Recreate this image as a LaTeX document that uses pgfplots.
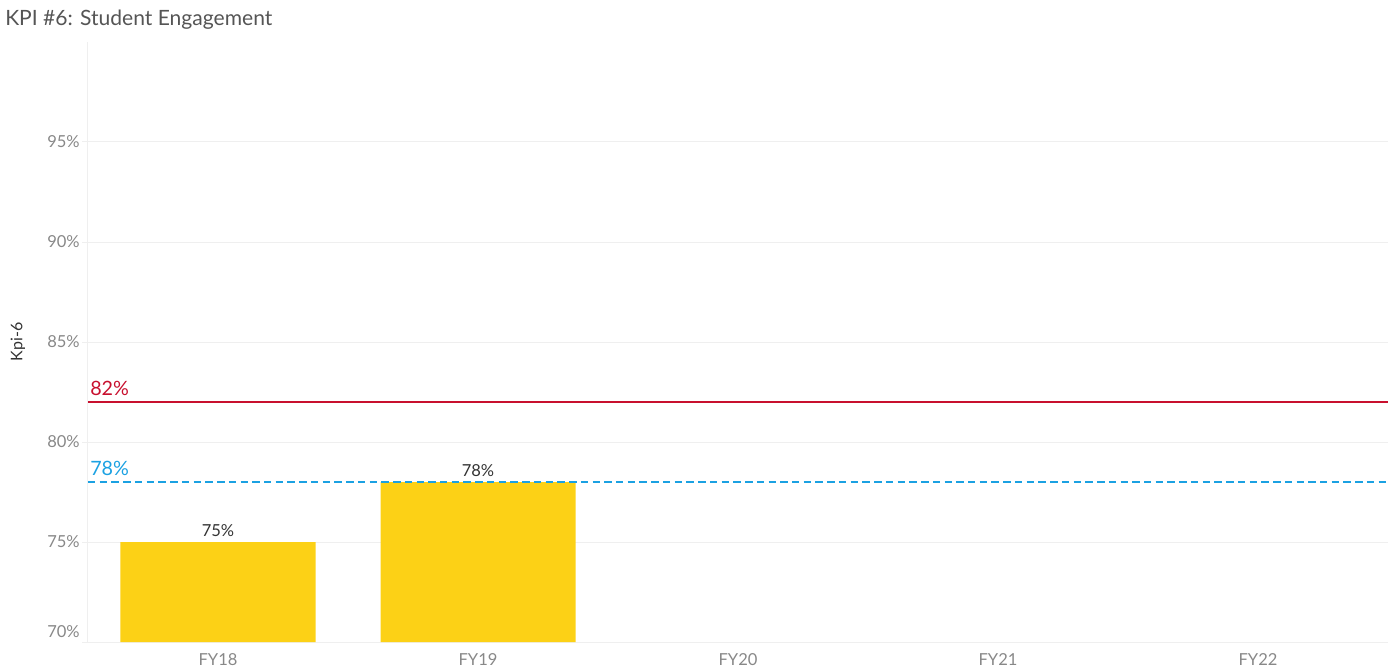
\documentclass[border=0pt]{standalone}
\usepackage{pgfplots}
\pgfplotsset{compat=1.18}
\usepackage{fontspec}
\setmainfont{Lato}
\definecolor{baryellow}{HTML}{FCD116}
\definecolor{refred}{HTML}{C8102E}
\definecolor{refblue}{HTML}{1BA1E2}
\definecolor{gridgray}{HTML}{EFEFEF}
\definecolor{ticktext}{HTML}{888888}
\definecolor{titletext}{HTML}{555555}
\definecolor{labeltext}{HTML}{333333}
\begin{document}
\begin{tikzpicture}
\useasboundingbox (-66pt,-20.25pt) rectangle (976.5pt,481.5pt);
\node[anchor=west, text=titletext, font=\fontsize{15.8pt}{18pt}\selectfont, inner sep=0pt] at (-62.25pt,466.5pt) {KPI \#6: Student Engagement};
\begin{axis}[
  at={(0,0)}, anchor=south west,
  scale only axis, width=975pt, height=450pt,
  xmin=-0.5, xmax=4.5, ymin=70, ymax=100,
  ybar, bar width=0.75, bar shift=0pt,
  axis lines*=left,
  axis line style={draw=gridgray, line width=0.75pt, -},
  xtick={0,1,2,3,4},
  xticklabels={FY18,FY19,FY20,FY21,FY22},
  x tick style={draw=none},
  extra x ticks={-0.5,0.5,1.5,2.5,3.5,4.5},
  extra x tick labels={},
  extra x tick style={tick align=outside, major tick length=3.75pt, tick style={draw=gridgray, line width=0.75pt}},
  ytick={75,80,85,90,95},
  yticklabels={75\%,80\%,85\%,90\%,95\%},
  extra y ticks={70},
  extra y tick labels={70\%},
  extra y tick style={yticklabel style={yshift=8pt}},
  ymajorgrids,
  grid style={draw=gridgray, line width=0.75pt},
  y tick style={draw=gridgray, line width=0.75pt},
  tick align=outside, major tick length=4.5pt,
  yticklabel style={font=\fontsize{12.4pt}{14pt}\selectfont, text=ticktext, inner sep=0pt, xshift=-1.5pt},
  xticklabel style={font=\fontsize{12.4pt}{14pt}\selectfont, text=ticktext, inner sep=0pt, yshift=-4pt},
  /pgf/number format/assume math mode=true,
  ylabel={Kpi-6},
  ylabel style={at={(axis description cs:-0.05385,0.5)}, anchor=center, font=\fontsize{12pt}{14pt}\selectfont, text=labeltext},
  nodes near coords={\pgfmathprintnumber{\pgfplotspointmeta}\%},
  every node near coord/.append style={font=\fontsize{12.4pt}{14pt}\selectfont, text=labeltext, inner sep=0pt, yshift=4pt},
  clip=false,
]
\addplot[fill=baryellow, draw=none] coordinates {(0,75) (1,78)};
\addplot[sharp plot, refred, line width=1.5pt, nodes near coords={}, forget plot] coordinates {(-0.5,82) (4.5,82)};
\addplot[sharp plot, refblue, line width=1.5pt, dash pattern=on 5.6pt off 3.2pt, nodes near coords={}, forget plot] coordinates {(-0.5,78) (4.5,78)};
\node[anchor=base west, text=refred, font=\fontsize{14.8pt}{17pt}\selectfont, inner sep=0pt] at ([xshift=1.5pt,yshift=5pt]axis cs:-0.5,82) {82\%};
\node[anchor=base west, text=refblue, font=\fontsize{14.8pt}{17pt}\selectfont, inner sep=0pt] at ([xshift=1.5pt,yshift=5pt]axis cs:-0.5,78) {78\%};
\end{axis}
\end{tikzpicture}
\end{document}
